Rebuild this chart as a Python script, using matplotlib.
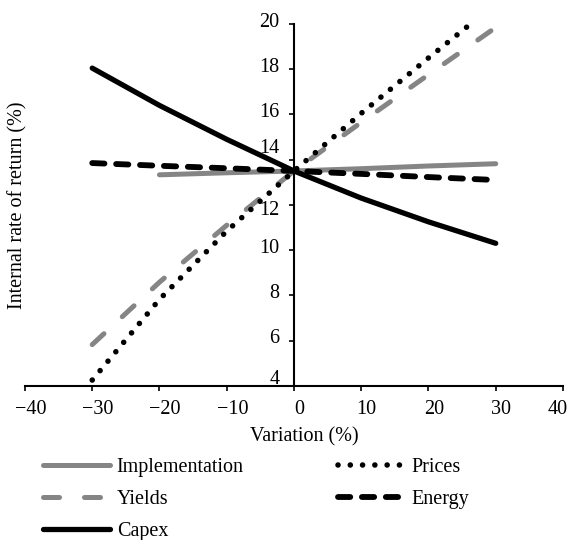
import matplotlib
matplotlib.use("Agg")
import matplotlib.pyplot as plt
import matplotlib.transforms as mtransforms

plt.rcParams['font.family'] = ['Liberation Serif', 'DejaVu Serif']
plt.rcParams['font.size'] = 14.5

# values (IRR in % for each variation in %)
variation = [-30, -20, -10, 0, 10, 20, 30]
implementation_x = [-20, -10, 0, 10, 20, 30]
implementation = [13.33, 13.42, 13.5, 13.6, 13.72, 13.82]
yields = [5.82, 8.58, 11.1, 13.5, 15.65, 17.76, 19.85]
capex = [18.05, 16.4, 14.9, 13.5, 12.3, 11.25, 10.3]
prices = [4.25, 7.82, 10.84, 13.5, 16.05, 18.5, 20.9]
energy = [13.85, 13.73, 13.62, 13.5, 13.37, 13.23, 13.1]

x_ticks = [-40, -30, -20, -10, 0, 10, 20, 30, 40]
y_ticks = [4, 6, 8, 10, 12, 14, 16, 18, 20]

GREY = '#858585'

fig = plt.figure(figsize=(5.69, 5.40), dpi=100)
ax = fig.add_axes([0.0439, 0.2857, 0.9455, 0.6698])

h_impl, = ax.plot(implementation_x, implementation, color=GREY, lw=3.6,
                  solid_capstyle='round', label='Implementation')
h_yld, = ax.plot(variation, yields, color=GREY, lw=3.6, dashes=(3.2, 5.0),
                 dash_capstyle='round', label='Yields')
h_prc, = ax.plot(variation, prices, color='black', lw=4.0, dashes=(0.01, 2.2),
                 dash_capstyle='round', label='Prices')
h_nrg, = ax.plot(variation, energy, color='black', lw=4.2, dashes=(2.1, 2.0),
                 dash_capstyle='round', label='Energy')
h_cpx, = ax.plot(variation, capex, color='black', lw=3.8,
                 solid_capstyle='round', label='Capex')

ax.set_xlim(-40, 40)
ax.set_ylim(4, 20)
ax.set_xticks(x_ticks)
ax.set_yticks(y_ticks)

for side in ['top', 'right']:
    ax.spines[side].set_visible(False)
ax.spines['left'].set_position(('data', 0))
ax.spines['left'].set_linewidth(1.5)
ax.spines['bottom'].set_linewidth(1.5)
ax.tick_params(axis='both', direction='out', length=3.6, width=1.2, colors='black')
ax.tick_params(axis='y', pad=7)
ax.tick_params(axis='x', pad=7)

# nudge tick labels like in the reference (14 and 4 are lifted clear of the lines)
nudge = {4: 6.5, 12: -2, 14: 9.5}
for val, lab in zip(y_ticks, ax.get_yticklabels()):
    dy = nudge.get(val, 3)
    lab.set_transform(lab.get_transform() + mtransforms.ScaledTranslation(0, dy / 72, fig.dpi_scale_trans))
for val, lab in zip(x_ticks, ax.get_xticklabels()):
    dx = -4 if val == 40 else 4
    lab.set_transform(lab.get_transform() + mtransforms.ScaledTranslation(dx / 72, 0, fig.dpi_scale_trans))

fig.text(18 / 569, 1 - 205 / 540, 'Internal rate of return (%)', rotation=90,
         ha='center', va='center')
fig.text(304 / 569, 1 - 437 / 540, 'Variation (%)', ha='center', va='center')

ax.legend(handles=[h_impl, h_yld, h_cpx, h_prc, h_nrg], ncol=2, frameon=False,
          loc='upper left', bbox_to_anchor=(0.076, 0.1524), bbox_transform=fig.transFigure,
          borderpad=0, borderaxespad=0, handlelength=3.3, handletextpad=0.35,
          columnspacing=4.7, labelspacing=0.64)

fig.savefig('out.png', dpi=100)
